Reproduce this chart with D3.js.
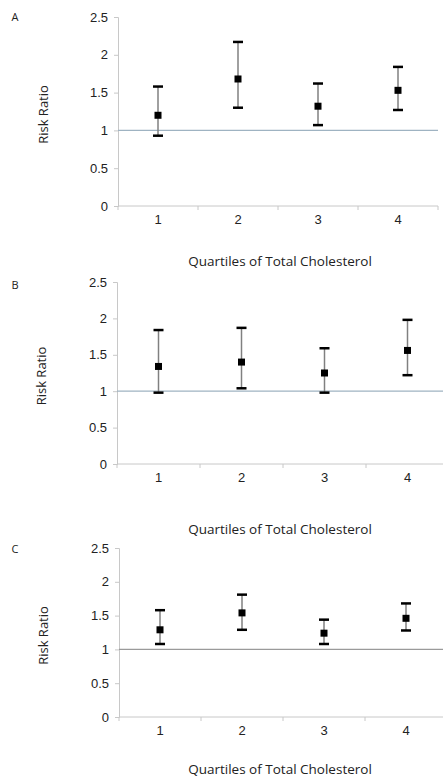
<!DOCTYPE html>
<html>
<head>
<meta charset="utf-8">
<script src="https://cdn.jsdelivr.net/npm/d3@7"></script>
<style>
  body { margin: 0; background: #fff; }
  svg { display: block; font-family: "Open Sans", "Noto Sans", sans-serif; }
</style>
</head>
<body>
<svg id="chart" width="443" height="779"></svg>
<script>
// data
const quartiles = ["1", "2", "3", "4"];
const yTicks = [0, 0.5, 1, 1.5, 2, 2.5];
const panelLabels = ["A", "B", "C"];

const rrA = [1.20, 1.68, 1.32, 1.53];
const loA = [0.93, 1.30, 1.07, 1.27];
const hiA = [1.58, 2.17, 1.62, 1.84];

const rrB = [1.34, 1.40, 1.25, 1.56];
const loB = [0.98, 1.04, 0.98, 1.22];
const hiB = [1.84, 1.87, 1.59, 1.98];

const rrC = [1.29, 1.54, 1.24, 1.46];
const loC = [1.08, 1.29, 1.08, 1.28];
const hiC = [1.58, 1.81, 1.44, 1.68];

const xTitle = "Quartiles of Total Cholesterol";
const yTitle = "Risk Ratio";

(function () {
    const svg = d3.select("#chart");

    // panel frames (pixel layout)
    const panels = [
        { label: panelLabels[0], rr: rrA, lo: loA, hi: hiA, refColor: "#9fb3c2",
          left: 118, right: 438, top: 17, bottom: 206, labY: 21, titleY: 266, yLabX: 43 },
        { label: panelLabels[1], rr: rrB, lo: loB, hi: hiB, refColor: "#9fb3c2",
          left: 117, right: 449, top: 282, bottom: 464, labY: 289, titleY: 534, yLabX: 41 },
        { label: panelLabels[2], rr: rrC, lo: loC, hi: hiC, refColor: "#9a9a9a",
          left: 119, right: 447, top: 548, bottom: 717, labY: 553, titleY: 774, yLabX: 43 }
    ];

    panels.forEach(p => {
        const g = svg.append("g");
        const x = d3.scaleBand().domain(quartiles).range([p.left, p.right]);
        const y = d3.scaleLinear().domain([0, 2.5]).range([p.bottom, p.top]);

        // panel letter
        g.append("text")
            .attr("x", 15).attr("y", p.labY)
            .attr("text-anchor", "middle")
            .style("font-size", "11px").attr("fill", "#222")
            .text(p.label);

        // y axis
        const ya = g.append("g")
            .attr("transform", `translate(${p.left},0)`)
            .call(d3.axisLeft(y).tickValues(yTicks).tickSize(4).tickPadding(6)
                .tickFormat(d => d));
        ya.select(".domain").attr("stroke", "#c8c8c8");
        ya.selectAll(".tick line").attr("stroke", "#c8c8c8");
        ya.selectAll("text").style("font-size", "13px").attr("fill", "#222");

        // x axis baseline + boundary ticks
        g.append("line")
            .attr("x1", p.left).attr("x2", p.right)
            .attr("y1", p.bottom).attr("y2", p.bottom)
            .attr("stroke", "#c8c8c8");
        const bounds = quartiles.map(q => x(q)).concat([p.right]);
        g.selectAll(".xb").data(bounds).join("line")
            .attr("x1", d => d).attr("x2", d => d)
            .attr("y1", p.bottom).attr("y2", p.bottom + 4)
            .attr("stroke", "#c8c8c8");

        const xa = g.append("g")
            .attr("transform", `translate(0,${p.bottom})`)
            .call(d3.axisBottom(x).tickSize(0).tickPadding(9));
        xa.select(".domain").remove();
        xa.selectAll("text").style("font-size", "13px").attr("fill", "#222");

        // reference line at 1
        g.append("line")
            .attr("x1", p.left).attr("x2", p.right)
            .attr("y1", y(1)).attr("y2", y(1))
            .attr("stroke", p.refColor).attr("stroke-width", 1.2);

        // error bars
        const pts = quartiles.map((q, i) => ({ q, rr: p.rr[i], lo: p.lo[i], hi: p.hi[i] }));
        const cx = d => x(d.q) + x.bandwidth() / 2;

        g.selectAll(".whisk").data(pts).join("line")
            .attr("x1", cx).attr("x2", cx)
            .attr("y1", d => y(d.lo)).attr("y2", d => y(d.hi))
            .attr("stroke", "#808080").attr("stroke-width", 1.5);

        ["lo", "hi"].forEach(k => {
            g.selectAll(".cap-" + k).data(pts).join("line")
                .attr("x1", d => cx(d) - 5).attr("x2", d => cx(d) + 5)
                .attr("y1", d => y(d[k])).attr("y2", d => y(d[k]))
                .attr("stroke", "#000").attr("stroke-width", 2.5);
        });

        g.selectAll(".pt").data(pts).join("rect")
            .attr("x", d => cx(d) - 3.5).attr("y", d => y(d.rr) - 3.5)
            .attr("width", 7).attr("height", 7)
            .attr("fill", "#000");

        // titles
        g.append("text")
            .attr("x", 280).attr("y", p.titleY)
            .attr("text-anchor", "middle")
            .style("font-size", "13.5px").attr("fill", "#222")
            .text(xTitle);

        g.append("text")
            .attr("transform", `translate(${p.yLabX},${(p.top + p.bottom) / 2 + 3}) rotate(-90)`)
            .attr("text-anchor", "middle")
            .attr("dy", "0.35em")
            .style("font-size", "13px").attr("fill", "#222")
            .text(yTitle);
    });
})();
</script>
</body>
</html>
